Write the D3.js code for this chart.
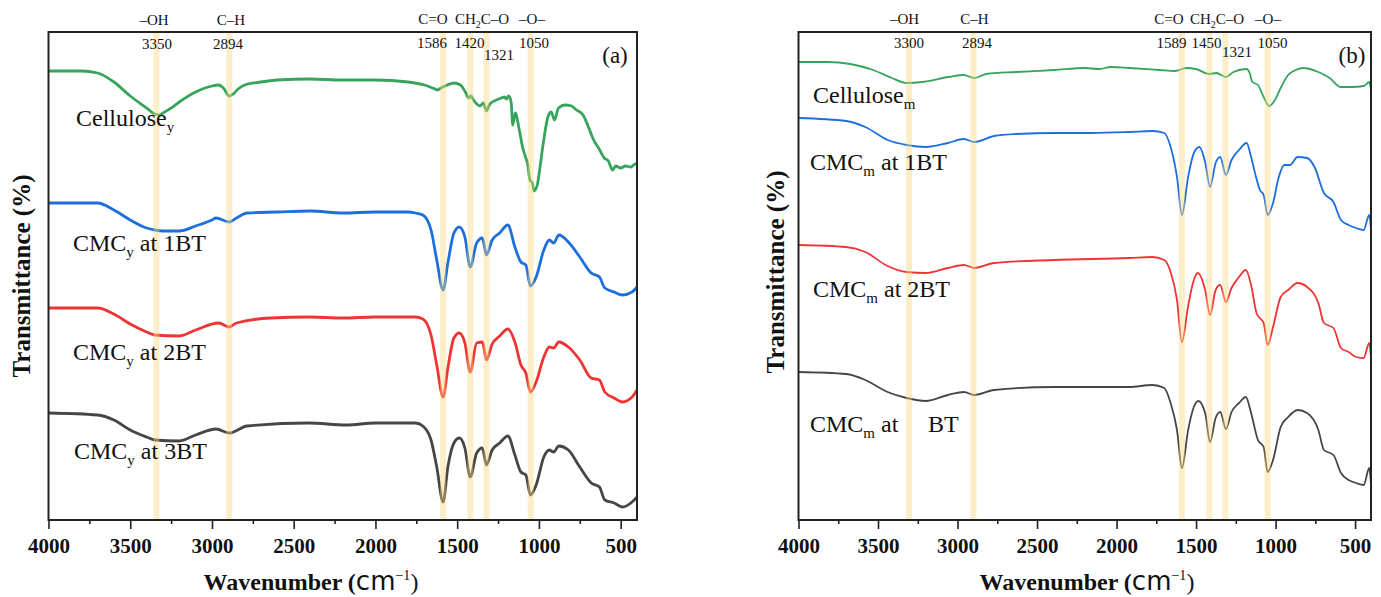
<!DOCTYPE html>
<html>
<head>
<meta charset="utf-8">
<script src="https://cdn.jsdelivr.net/npm/d3@7"></script>
<style>
  body { margin: 0; background: #fff; }
  svg text { font-family: "Liberation Serif", "Times New Roman", serif; fill: #111; }
</style>
</head>
<body>
<svg id="chart" width="1381" height="597"></svg>
<script>
// ---------- data (wavenumber cm-1, offset transmittance in arbitrary units) ----------
var majorTicks = [4000, 3500, 3000, 2500, 2000, 1500, 1000, 500];
var minorTicks = [3750, 3250, 2750, 2250, 1750, 1250, 750];
var colors = ["#36a55b", "#1d6fdc", "#ee3434", "#464646"];

var groupNames = ["–OH", "C–H", "C=O", "CH2C–O", "–O–"];

var bandsA = [3340, 2894, 1586, 1420, 1321, 1050];
var bandTextA = ["3350", "2894", "1586", "1420", "1321", "1050"];
var bandsB = [3305, 2900, 1589, 1416, 1315, 1050];
var bandTextB = ["3300", "2894", "1589", "1450", "1321", "1050"];

var namesA = [["Cellulose", "y", ""], ["CMC", "y", " at 1BT"], ["CMC", "y", " at 2BT"], ["CMC", "y", " at 3BT"]];
var namesB = [["Cellulose", "m", ""], ["CMC", "m", " at 1BT"], ["CMC", "m", " at 2BT"], ["CMC", "m", " at"]];

var celluloseY = [[4000,449],[3800,449],[3700,447],[3600,438],[3500,424],[3400,412],[3350,406],[3320,405],[3300,407],[3250,412],[3200,418],[3100,428],[3000,434],[2960,435],[2930,432],[2894,424],[2870,426],[2840,431],[2800,435],[2700,438],[2600,440],[2400,441],[2200,440],[2000,440],[1800,438],[1700,435],[1650,432],[1620,430],[1600,432],[1560,435],[1520,437],[1480,435],[1450,428],[1430,422],[1415,424],[1400,420],[1380,416],[1360,414],[1340,417],[1321,409],[1300,416],[1260,420],[1230,422],[1210,423],[1200,421],[1185,424],[1170,418],[1160,395],[1145,407],[1120,390],[1100,373],[1080,362],[1070,357],[1055,340],[1040,337],[1030,329],[1010,335],[1000,345],[975,375],[945,403],[925,408],[905,400],[880,412],[840,415],[800,414],[770,410],[730,405],[690,390],[665,380],[635,372],[600,362],[575,359],[550,350],[530,354],[500,352],[470,354],[440,353],[420,355],[400,357]];

var cmcY1 = [[4000,317],[3700,317],[3600,310],[3500,300],[3400,292],[3350,290],[3300,289],[3200,289],[3100,294],[3000,300],[2975,302],[2894,298],[2850,302],[2785,307],[2600,308],[2400,309],[2200,307],[2000,308],[1800,308],[1755,307],[1710,305],[1660,290],[1625,260],[1586,230],[1557,257],[1520,287],[1487,293],[1453,283],[1420,253],[1381,277],[1346,282],[1321,265],[1286,280],[1240,287],[1190,295],[1147,273],[1110,258],[1080,255],[1052,234],[1017,243],[970,270],[936,280],[910,277],[878,285],[820,278],[750,263],[680,247],[630,243],[597,232],[540,228],[490,225],[430,228],[400,233]];

var cmcY2 = [[4000,212],[3700,212],[3600,206],[3500,196],[3400,188],[3350,185],[3200,184],[3100,190],[2960,197],[2894,193],[2850,197],[2640,202],[2400,203],[2200,202],[2000,203],[1755,203],[1710,201],[1660,185],[1625,155],[1586,123],[1557,152],[1520,182],[1487,187],[1453,177],[1420,148],[1381,177],[1346,178],[1321,160],[1286,176],[1240,184],[1190,191],[1147,178],[1110,155],[1080,147],[1052,128],[1017,138],[970,163],[936,173],[910,172],[878,178],[820,173],[750,160],[680,142],[630,140],[597,128],[540,122],[490,118],[430,123],[400,130]];

var cmcY3 = [[4000,107],[3700,105],[3600,100],[3500,90],[3400,83],[3350,80],[3200,79],[3100,85],[2975,91],[2894,87],[2785,94],[2410,97],[2178,95],[2000,97],[1755,97],[1710,94],[1660,80],[1625,53],[1586,18],[1557,53],[1520,77],[1487,82],[1453,72],[1420,43],[1381,67],[1346,72],[1321,55],[1286,70],[1240,77],[1190,84],[1147,65],[1110,48],[1080,45],[1052,25],[1017,35],[970,63],[936,70],[910,68],[878,74],[820,70],[750,53],[680,37],[630,33],[597,20],[540,17],[490,13],[430,18],[400,23]];

var celluloseM = [[4000,458],[3816,458],[3674,456],[3531,450],[3413,442],[3318,437],[3223,438],[3057,443],[2962,445],[2894,442],[2820,446],[2630,448],[2392,450],[2200,452],[2108,451],[2036,453],[1918,452],[1728,450],[1633,449],[1562,452],[1502,451],[1416,446],[1372,447],[1312,443],[1265,448],[1182,451],[1163,447],[1146,438],[1111,435],[1075,423],[1040,414],[1004,420],[968,432],[921,445],[874,450],[826,452],[731,448],[660,442],[589,433],[518,433],[446,434],[411,438],[400,430]];

var cmcM1 = [[4000,402],[3700,399],[3580,393],[3440,380],[3320,375],[3200,373],[3060,377],[2960,381],[2894,378],[2770,384],[2630,386],[2390,387],[2155,387],[1920,388],[1775,389],[1700,387],[1660,373],[1620,343],[1589,305],[1550,343],[1514,367],[1479,373],[1443,358],[1412,333],[1377,357],[1348,363],[1312,345],[1277,360],[1230,370],[1182,377],[1154,363],[1123,343],[1099,330],[1075,325],[1050,305],[1016,317],[980,343],[945,355],[909,355],[862,363],[802,362],[755,353],[696,327],[636,318],[589,300],[541,295],[494,292],[446,290],[411,305],[400,290]];

var cmcM2 = [[4000,275],[3700,273],[3580,268],[3440,254],[3320,248],[3200,247],[3060,252],[2960,255],[2894,252],[2770,257],[2390,260],[1920,262],[1775,263],[1700,260],[1660,248],[1620,220],[1589,178],[1550,214],[1514,240],[1490,247],[1443,230],[1412,205],[1377,230],[1348,235],[1312,218],[1277,232],[1230,243],[1187,250],[1154,235],[1120,207],[1099,202],[1075,197],[1050,175],[1016,193],[968,223],[921,230],[862,237],[802,233],[731,217],[696,197],[636,192],[589,172],[541,168],[494,163],[446,162],[411,177],[400,162]];

var cmcM3 = [[4000,148],[3700,146],[3580,140],[3440,128],[3320,122],[3200,119],[3060,125],[2960,128],[2894,125],[2770,130],[2390,133],[1920,133],[1775,135],[1700,132],[1660,117],[1620,90],[1589,52],[1550,90],[1514,113],[1486,119],[1443,107],[1412,78],[1377,102],[1348,108],[1312,91],[1277,108],[1230,117],[1187,123],[1154,107],[1111,80],[1075,73],[1050,48],[1016,60],[968,93],[921,103],[862,110],[802,107],[731,90],[696,70],[636,65],[589,47],[541,40],[494,37],[446,35],[411,52],[400,35]];

// ---------- layout ----------
var svg = d3.select("#chart");

var panels = [
  {
    x0: 48.5, x1: 637, series: [celluloseY, cmcY1, cmcY2, cmcY3], names: namesA, lw: 2.8,
    bands: bandsA, bandText: bandTextA,
    bandTextPos: [[157,49],[228,49],[432,48],[469.5,48],[499,60],[534,48]],
    groupPos: [[154,25],[231,25],[433,24],[455,24],[532,24]],
    namePos: [[76,126],[73,251],[73,360],[74,459]],
    tag: "(a)", tagPos: [615,63],
    yTitle: [30,276], xTitle: [311,590]
  },
  {
    x0: 798.5, x1: 1371, series: [celluloseM, cmcM1, cmcM2, cmcM3], names: namesB, lw: 1.8,
    bands: bandsB, bandText: bandTextB,
    bandTextPos: [[909,48],[977,48],[1171.5,48],[1206.6,48],[1237,57],[1272.6,48]],
    groupPos: [[904.5,24],[974.5,24],[1169,24],[1190,24],[1268,24]],
    namePos: [[813,103],[810,170],[813,297],[810,432]],
    tag: "(b)", tagPos: [1352,63],
    yTitle: [784,272], xTitle: [1087,590]
  }
];

var plotTop = 32, plotBottom = 520;

panels.forEach(function(p, pi) {
  var x = d3.scaleLinear().domain([4000, 400]).range([p.x0, p.x1]);
  var y = d3.scaleLinear().domain([0, 488]).range([plotBottom, plotTop]);
  var g = svg.append("g");

  var line = d3.line()
    .x(function(d) { return x(d[0]); })
    .y(function(d) { return y(d[1]); })
    .curve(d3.curveMonotoneX);

  g.selectAll("path.spec")
    .data(p.series)
    .enter().append("path")
    .attr("class", "spec")
    .attr("d", line)
    .attr("fill", "none")
    .attr("stroke", function(d, i) { return colors[i]; })
    .attr("stroke-width", p.lw)
    .attr("stroke-linejoin", "round");

  // highlight bands drawn over the spectra
  g.selectAll("rect.band")
    .data(p.bands)
    .enter().append("rect")
    .attr("class", "band")
    .attr("x", function(d) { return x(d) - 3; })
    .attr("y", plotTop)
    .attr("width", 6)
    .attr("height", plotBottom - plotTop)
    .attr("fill", "#f9d77e")
    .attr("fill-opacity", 0.42);

  // bottom axis
  var ax = g.append("g").attr("transform", "translate(0," + plotBottom + ")")
    .call(d3.axisBottom(x).tickValues(majorTicks).tickSize(9).tickFormat(d3.format("d")));
  ax.select(".domain").remove();
  ax.selectAll("line").attr("stroke", "#222").attr("stroke-width", 1.6);
  ax.selectAll("text")
    .attr("y", 33).attr("dy", 0)
    .style("font-family", "'Liberation Serif', serif")
    .style("font-weight", "bold")
    .style("font-size", "21px")
    .attr("fill", "#111");

  var axm = g.append("g").attr("transform", "translate(0," + plotBottom + ")")
    .call(d3.axisBottom(x).tickValues(minorTicks).tickSize(4).tickFormat(""));
  axm.select(".domain").remove();
  axm.selectAll("line").attr("stroke", "#222").attr("stroke-width", 1.6);

  // frame
  g.append("rect")
    .attr("x", p.x0).attr("y", plotTop)
    .attr("width", p.x1 - p.x0).attr("height", plotBottom - plotTop)
    .attr("fill", "none").attr("stroke", "#222").attr("stroke-width", 2);

  // group labels above the frame
  groupNames.forEach(function(t, i) {
    var pos = p.groupPos[i];
    var txt = g.append("text")
      .attr("x", pos[0]).attr("y", pos[1])
      .attr("text-anchor", i === 3 ? "start" : "middle")
      .style("font-size", "15px");
    if (t === "CH2C–O") {
      txt.append("tspan").text("CH");
      txt.append("tspan").attr("dy", 4).style("font-size", "10px").text("2");
      txt.append("tspan").attr("dy", -4).text("C–O");
    } else {
      txt.text(t);
    }
  });

  // band wavenumbers
  p.bandText.forEach(function(t, i) {
    g.append("text")
      .attr("x", p.bandTextPos[i][0]).attr("y", p.bandTextPos[i][1])
      .attr("text-anchor", "middle")
      .style("font-size", "15px")
      .text(t);
  });

  // panel tag
  g.append("text")
    .attr("x", p.tagPos[0]).attr("y", p.tagPos[1])
    .attr("text-anchor", "middle")
    .style("font-size", "23px")
    .text(p.tag);

  // series names
  p.names.forEach(function(n, i) {
    var t = g.append("text")
      .attr("x", p.namePos[i][0]).attr("y", p.namePos[i][1])
      .style("font-size", "24px");
    t.append("tspan").text(n[0]);
    t.append("tspan").attr("dy", 6).style("font-size", "15px").text(n[1]);
    if (n[2]) t.append("tspan").attr("dy", -6).text(n[2]);
    if (pi === 1 && i === 3) {
      g.append("text").attr("x", 928).attr("y", p.namePos[i][1])
        .style("font-size", "24px").text("BT");
    }
  });

  // y title
  g.append("text")
    .attr("transform", "translate(" + p.yTitle[0] + "," + p.yTitle[1] + ") rotate(-90)")
    .attr("text-anchor", "middle")
    .style("font-size", "25px")
    .style("font-weight", "bold")
    .text("Transmittance (%)");

  // x title
  var xt = g.append("text")
    .attr("x", p.xTitle[0]).attr("y", p.xTitle[1])
    .attr("text-anchor", "middle")
    .style("font-size", "24px");
  xt.append("tspan").style("font-weight", "bold").text("Wavenumber (");
  xt.append("tspan").style("font-family", "'DejaVu Sans', sans-serif").style("font-size", "26px").text("cm");
  xt.append("tspan").attr("dy", -10).style("font-size", "14px").text("−1");
  xt.append("tspan").attr("dy", 10).text(")");
});
</script>
</body>
</html>
